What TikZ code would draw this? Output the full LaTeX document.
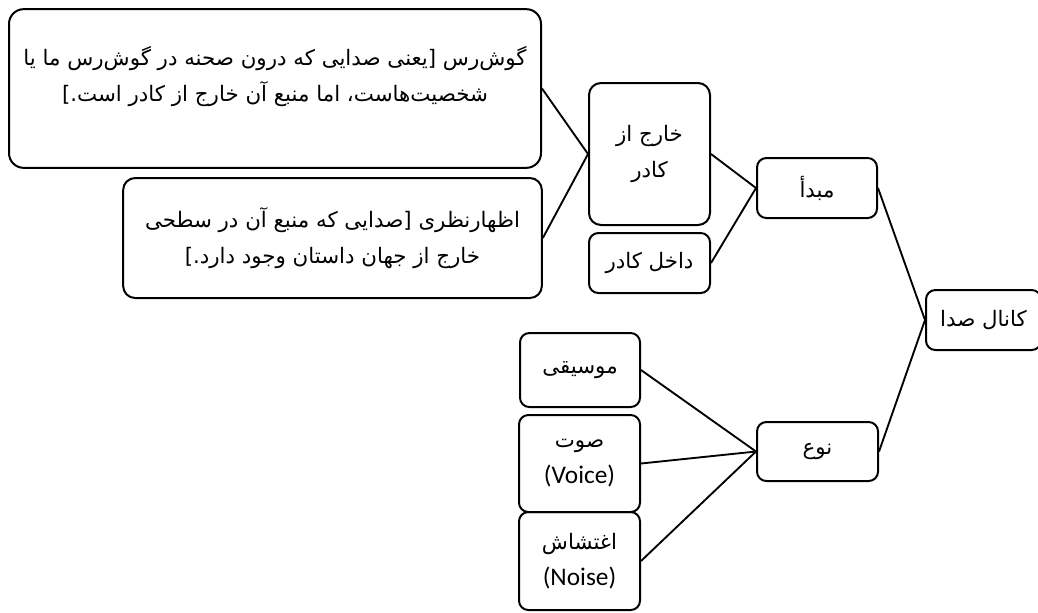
\documentclass[tikz,border=0pt]{standalone}
\usepackage{fontspec}
\setmainfont{DejaVu Sans}
\newfontfamily\farsifont[Script=Arabic]{DejaVu Sans}
\newfontfamily\latinfont{Carlito}
\usetikzlibrary{positioning}
\TeXXeTstate=1

\begin{document}
\begin{tikzpicture}[x=0.75pt, y=-0.75pt,
	box/.style={draw, line width=1.5pt, rounded corners=7pt, align=center, inner sep=2pt,
		font=\farsifont\fontsize{16}{27}\selectfont},
	link/.style={line width=1.4pt}]
	\useasboundingbox (0,0) rectangle (1038,612);
	% description boxes
	\node[box, rounded corners=11pt, minimum width=399pt, minimum height=119pt] (gooshras) at (275,88.5)
		{\beginR گوش‌رس [یعنی صدایی که درون صحنه در گوش‌رس ما یا\endR\\
		 \beginR شخصیت‌هاست، اما منبع آن خارج از کادر است.]\endR\\[-5pt]\mbox{}};
	\node[box, rounded corners=9pt, minimum width=314pt, minimum height=90pt] (ezhar) at (332.5,238)
		{\beginR اظهارنظری [صدایی که منبع آن در سطحی\endR\\
		 \beginR خارج از جهان داستان وجود دارد.]\endR};
	% frame
	\node[box, rounded corners=9pt, minimum width=90.75pt, minimum height=106.5pt] (kharej) at (649.5,154)
		{\beginR خارج از\endR\\ \beginR کادر\endR};
	\node[box, minimum width=90.75pt, minimum height=45pt] (dakhel) at (649.5,263) {\beginR داخل کادر\endR};
	\node[box, minimum width=90pt, minimum height=45pt] (mabda) at (817,188) {\beginR مبدأ\endR};
	\node[box, minimum width=86.25pt, minimum height=45pt] (kanal) at (983.5,320) {\beginR کانال صدا\endR};
	% type
	\node[box, minimum width=90.75pt, minimum height=44.25pt] (noe) at (817.5,451.5) {\beginR نوع\endR};
	\node[box, minimum width=90pt, minimum height=55.5pt] (musighi) at (580,370) {\beginR موسیقی\endR};
	\node[box, minimum width=90.75pt, minimum height=72.75pt] (sowt) at (579.5,463.5)
		{\beginR صوت\endR\\ {\latinfont\fontsize{19}{27}\selectfont (Voice)}};
	\node[box, minimum width=90.75pt, minimum height=73.5pt] (eghteshash) at (579.5,561)
		{\beginR اغتشاش\endR\\ {\latinfont\fontsize{19}{27}\selectfont (Noise)}};
	% links
	\foreach \a/\b in {kharej/gooshras, kharej/ezhar, mabda/kharej, mabda/dakhel, kanal/mabda,
		kanal/noe, noe/musighi, noe/sowt, noe/eghteshash}{
		\draw[link] (\a.west) -- (\b.east);
	}
\end{tikzpicture}
\end{document}
